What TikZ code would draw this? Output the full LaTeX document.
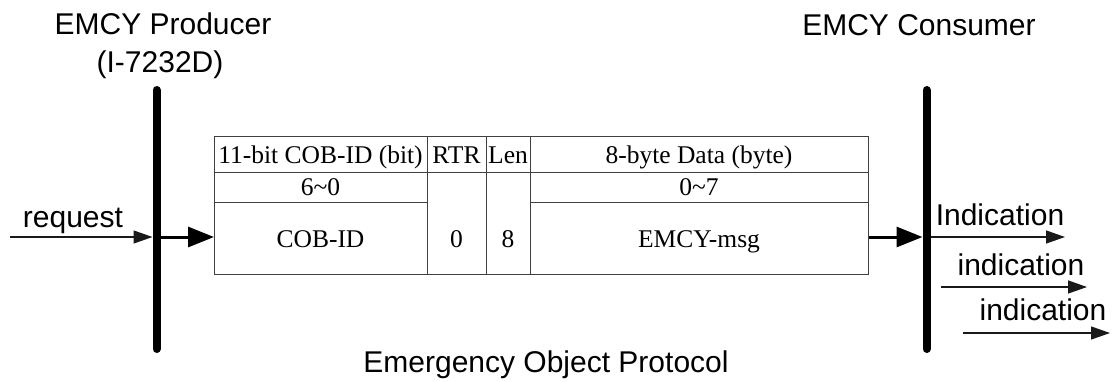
\documentclass[tikz,border=0pt]{standalone}
\usepackage{fontspec}
\setmainfont{Liberation Sans}
\newfontfamily\tabfont{Liberation Serif}
\usetikzlibrary{arrows.meta}
\tikzset{
  lbl/.style={font=\fontsize{30}{34}\selectfont, inner sep=0pt, anchor=base},
  cell/.style={draw=black!75, line width=1.3pt, inner sep=0pt, anchor=north west},
  ttxt/.style={font=\tabfont\fontsize{25.5}{28}\selectfont, inner sep=0pt, anchor=base},
  lifeline/.style={line width=8pt, line cap=round},
  bigarrow/.style={line width=3pt, -{Triangle[length=26pt,width=20pt]}},
  thinarrow/.style={line width=1.3pt, black!90, -{Triangle[length=19pt,width=13pt]}}
}
\begin{document}
\begin{tikzpicture}[x=1pt,y=-1pt]
\useasboundingbox (0,0) rectangle (1112,381);
% lifelines
\coordinate (pt) at (156.5,90);
\coordinate (pb) at (156.5,349);
\coordinate (ct) at (926.5,90);
\coordinate (cb) at (926.5,349);
\draw[lifeline] (pt) -- (pb);
\draw[lifeline] (ct) -- (cb);
% titles
\node[lbl] (prod) at (163,34) {EMCY Producer};
\node[lbl] (prodid) at (160,72) {(I-7232D)};
\node[lbl] (cons) at (919,35) {EMCY Consumer};
\node[lbl] (proto) at (546,372) {Emergency Object Protocol};
% table cells
\node[cell, minimum width=213pt, minimum height=36pt] (h1) at (214,136) {};
\node[cell, minimum width=59pt, minimum height=36pt] (h2) at (427,136) {};
\node[cell, minimum width=44pt, minimum height=36pt] (h3) at (486,136) {};
\node[cell, minimum width=338pt, minimum height=36pt] (h4) at (530,136) {};
\node[cell, minimum width=213pt, minimum height=30pt] (m1) at (214,172) {};
\node[cell, minimum width=338pt, minimum height=30pt] (m4) at (530,172) {};
\node[cell, minimum width=213pt, minimum height=72pt] (b1) at (214,202) {};
\node[cell, minimum width=59pt, minimum height=102pt] (b2) at (427,172) {};
\node[cell, minimum width=44pt, minimum height=102pt] (b3) at (486,172) {};
\node[cell, minimum width=338pt, minimum height=72pt] (b4) at (530,202) {};
% table texts
\node[ttxt] (th1) at (320.5,163) {11-bit COB-ID (bit)};
\node[ttxt] (th2) at (456.5,163) {RTR};
\node[ttxt] (th3) at (508,163) {Len};
\node[ttxt] (th4) at (699,163) {8-byte Data (byte)};
\node[ttxt] (tm1) at (320.5,195) {6\char`\~0};
\node[ttxt] (tm4) at (699,195) {0\char`\~7};
\node[ttxt] (tb1) at (320.5,247) {COB-ID};
\node[ttxt] (tb2) at (456.5,247) {0};
\node[ttxt] (tb3) at (508,247) {8};
\node[ttxt] (tb4) at (699,247) {EMCY-msg};
% arrows
\coordinate (rq) at (10,237);
\coordinate (pl) at (152.5,237);
\coordinate (pr) at (160.5,237);
\draw[thinarrow] (rq) -- (pl);
\node[lbl] (rqt) at (73,227) {request};
\draw[bigarrow] (pr) -- (b1.west |- pr);
\coordinate (cl) at (922.5,237);
\draw[bigarrow] (b4.east |- cl) -- (cl);
\coordinate (i1s) at (930.5,237);
\coordinate (i1e) at (1065,237);
\coordinate (i2s) at (941,287);
\coordinate (i2e) at (1087,287);
\coordinate (i3s) at (963,333);
\coordinate (i3e) at (1110,333);
\draw[thinarrow] (i1s) -- (i1e);
\draw[thinarrow] (i2s) -- (i2e);
\draw[thinarrow] (i3s) -- (i3e);
\node[lbl] (it1) at (1000,225) {Indication};
\node[lbl] (it2) at (1021,275) {indication};
\node[lbl] (it3) at (1043,320) {indication};
\end{tikzpicture}
\end{document}
